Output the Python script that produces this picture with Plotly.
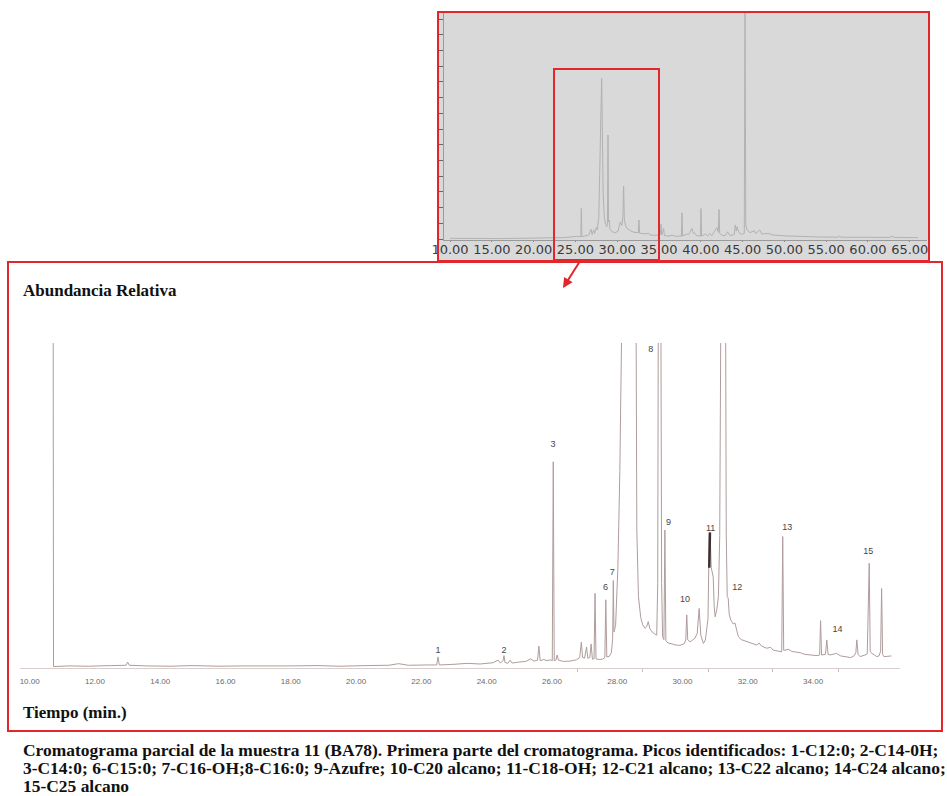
import plotly.graph_objects as go

W, H = 947, 796

# ---------------- data: main (partial) chromatogram ----------------
MAIN_T = [10.70, 10.73, 11.2, 11.8, 12.5, 12.95, 13.0, 13.05, 13.6, 14.3, 15.0, 15.8, 16.5, 17.3, 18.0,
          18.8, 19.5, 20.3, 21.0, 21.3, 21.6, 22.2, 22.47, 22.51, 22.55, 23.0, 23.4, 23.8, 24.2, 24.35,
          24.42, 24.50, 24.53, 24.56, 24.65, 24.72, 24.78, 25.0, 25.2, 25.35, 25.45, 25.56, 25.60, 25.64,
          25.75, 25.85, 25.95, 26.01, 26.04, 26.07, 26.12, 26.16, 26.20, 26.35, 26.55, 26.75, 26.85, 26.90,
          26.94, 27.00, 27.06, 27.10, 27.16, 27.20, 27.24, 27.29, 27.32, 27.35, 27.45, 27.55, 27.62, 27.65,
          27.68, 27.76, 27.82, 27.86, 27.88, 27.90, 27.95, 28.02, 28.08, 28.13, 28.22, 28.34, 28.48, 28.58,
          28.60, 28.65, 28.72, 28.78, 28.85, 28.90, 28.95, 29.00, 29.06, 29.14, 29.21, 29.24, 29.26, 29.30,
          29.34, 29.36, 29.39, 29.43, 29.46, 29.49, 29.55, 29.67, 29.80, 29.92, 30.05, 30.10, 30.13, 30.16,
          30.23, 30.30, 30.38, 30.45, 30.51, 30.56, 30.64, 30.70, 30.74, 30.78, 30.82, 30.85, 30.88, 30.94,
          30.97, 31.00, 31.05, 31.10, 31.14, 31.17, 31.24, 31.31, 31.34, 31.37, 31.40, 31.43, 31.48, 31.55,
          31.61, 31.66, 31.71, 31.80, 31.97, 32.10, 32.27, 32.35, 32.42, 32.58, 32.70, 32.78, 32.90, 33.04,
          33.07, 33.10, 33.14, 33.25, 33.35, 33.50, 33.62, 33.75, 33.88, 34.01, 34.12, 34.20, 34.23, 34.26,
          34.31, 34.38, 34.42, 34.46, 34.52, 34.62, 34.72, 34.85, 35.03, 35.15, 35.25, 35.31, 35.34, 35.38,
          35.44, 35.52, 35.59, 35.66, 35.69, 35.72, 35.75, 35.80, 35.88, 35.95, 36.02, 36.07, 36.10, 36.13,
          36.17, 36.30, 36.40]
MAIN_V = [300, -0.8, -0.6, -0.7, -0.5, -0.4, 0.6, -0.4, -0.6, -0.7, -0.5, -0.7, -0.6, -0.7, -0.6,
          -0.5, -0.7, -0.5, -0.4, 0.1, -0.4, -0.3, -0.3, 2.2, -0.3, -0.1, 0.2, 0.0, 0.4, 1.2,
          0.3, 1.0, 2.6, 0.5, 0.2, 1.2, 0.3, 0.6, 0.8, 1.6, 0.9, 1.2, 5.6, 1.0,
          1.4, 1.0, 1.3, 1.0, 63.0, 1.0, 1.2, 2.8, 1.2, 0.8, 0.9, 1.3, 2.0, 6.8,
          2.0, 1.8, 5.3, 1.8, 2.0, 6.2, 1.5, 1.6, 22.0, 1.6, 1.4, 1.5, 2.0, 20.0,
          2.2, 2.4, 3.5, 8.0, 26.0, 10.0, 12.0, 30.0, 60.0, 100.0, 220.0, 400.0, 220.0, 100.0,
          41.7, 21.0, 14.5, 12.2, 11.1, 11.6, 13.2, 11.0, 10.1, 9.4, 9.0, 25.0, 100.0, 300.0,
          100.0, 25.0, 8.5, 7.6, 41.7, 7.2, 6.6, 6.2, 5.9, 5.8, 6.3, 7.5, 15.3, 7.5,
          6.9, 7.4, 8.0, 9.5, 17.3, 9.0, 6.4, 7.5, 10.6, 14.0, 40.2, 39.5, 30.0, 27.2,
          18.0, 14.7, 17.0, 21.0, 40.0, 100.0, 400.0, 100.0, 40.0, 21.0, 20.5, 15.5, 13.7, 12.5,
          12.7, 10.5, 8.5, 7.6, 6.9, 6.4, 5.9, 6.5, 5.6, 4.9, 5.2, 4.3, 4.0, 3.8,
          39.7, 4.3, 4.3, 4.6, 3.9, 3.8, 3.5, 3.0, 2.9, 2.8, 2.6, 2.8, 13.5, 2.8,
          2.8, 3.0, 7.5, 3.0, 2.8, 3.0, 3.3, 2.5, 2.3, 2.0, 2.5, 3.5, 7.5, 3.0,
          2.3, 2.5, 2.8, 3.2, 20.0, 31.4, 4.0, 3.3, 2.8, 2.3, 2.5, 4.0, 23.5, 3.0,
          2.3, 2.3, 2.5]

# thick dark stroke on peak 11
BOLD_T = [30.84, 30.82]
BOLD_V = [41.0, 30.0]

PEAK_LABELS = ["1", "2", "3", "6", "7", "8", "9", "10", "11", "12", "13", "14", "15"]
PEAK_LABEL_T = [22.51, 24.53, 26.03, 27.64, 27.85, 29.03, 29.57, 30.08, 30.86, 31.68, 33.21, 34.75, 35.69]
PEAK_LABEL_V = [4.2, 4.2, 68.2, 23.7, 28.3, 97.8, 44.0, 19.9, 42.0, 23.6, 42.4, 10.8, 35.0]

MAIN_TICKS = [10, 12, 14, 16, 18, 20, 22, 24, 26, 28, 30, 32, 34]
MAIN_TICK_TEXT = ["10.00", "12.00", "14.00", "16.00", "18.00", "20.00", "22.00", "24.00",
                  "26.00", "28.00", "30.00", "32.00", "34.00"]
MAIN_MINOR = [26.77, 28.77, 30.8, 32.77, 34.77]

# ---------------- data: full chromatogram (inset) ----------------
INSET_T = [10.0, 12.0, 14.0, 16.0, 18.0, 20.0, 22.0, 23.5, 24.5, 25.2, 25.65, 25.71, 25.77, 26.2, 26.6,
           26.87, 27.0, 27.19, 27.3, 27.50, 27.62, 27.8, 27.95, 28.05, 28.14, 28.22, 28.32, 28.45, 28.6,
           28.78, 28.84, 28.90, 28.96, 29.06, 29.12, 29.4, 29.78, 30.1, 30.38, 30.55, 30.68, 30.77, 30.86,
           31.1, 31.5, 32.0, 32.52, 32.6, 32.68, 33.2, 33.76, 33.9, 34.5, 35.15, 35.24, 35.33, 35.56, 35.65,
           36.2, 36.56, 37.0, 37.68, 37.75, 37.82, 38.2, 38.35, 38.55, 38.75, 38.95, 39.1, 39.23, 39.5,
           39.95, 40.02, 40.09, 40.54, 40.8, 41.06, 41.3, 41.74, 41.94, 42.1, 42.18, 42.26, 42.54, 42.9,
           43.21, 43.5, 44.0, 44.13, 44.25, 44.33, 44.53, 44.8, 45.2, 45.29, 45.38, 45.53, 45.9, 46.4,
           46.6, 47.04, 47.3, 48.12, 48.5, 50.0, 52.0, 54.0, 56.4, 56.61, 56.8, 59.0, 62.6, 62.87, 63.1, 66.0]
INSET_V = [0.3, 0.2, 0.3, 0.2, 0.3, 0.3, 0.4, 0.6, 0.9, 1.2, 1.0, 13.5, 1.0, 1.3, 1.8,
           4.3, 2.0, 4.0, 2.5, 5.1, 4.0, 10.0, 30.0, 55.0, 71.1, 45.0, 20.0, 10.0, 6.5,
           5.5, 8.0, 46.0, 7.5, 8.4, 4.5, 3.2, 2.8, 3.5, 7.6, 6.0, 10.0, 23.4, 8.0,
           5.0, 3.8, 3.0, 2.8, 8.4, 2.6, 2.3, 2.5, 1.8, 1.6, 1.8, 6.5, 1.8, 4.7, 1.5,
           1.3, 1.7, 1.2, 1.3, 11.6, 1.3, 1.8, 2.2, 2.0, 3.2, 4.7, 2.5, 2.8, 1.5,
           1.3, 13.5, 1.3, 2.2, 1.3, 2.5, 1.4, 4.0, 5.1, 3.0, 13.1, 2.5, 1.7, 1.4,
           3.2, 1.5, 2.0, 6.2, 3.5, 5.4, 3.2, 2.0, 2.5, 110.0, 6.0, 4.0, 2.8, 3.7,
           2.4, 4.0, 2.2, 2.5, 1.8, 1.4, 1.1, 0.9, 0.8, 1.3, 0.8, 0.7, 0.7, 1.3, 0.7, 0.6]

INSET_TICKS = [10, 15, 20, 25, 30, 35, 40, 45, 50, 55, 60, 65]
INSET_TICK_TEXT = ["10.00", "15.00", "20.00", "25.00", "30.00", "35.00", "40.00", "45.00",
                   "50.00", "55.00", "60.00", "65.00"]

Y_LABEL = "Abundancia Relativa"
X_LABEL = "Tiempo (min.)"
CAPTION = [
    "Cromatograma parcial de la muestra 11 (BA78). Primera parte del cromatograma. Picos identificados: 1-C12:0; 2-C14-0H;",
    "3-C14:0; 6-C15:0; 7-C16-OH;8-C16:0; 9-Azufre; 10-C20 alcano; 11-C18-OH; 12-C21 alcano; 13-C22 alcano; 14-C24 alcano;",
    "15-C25 alcano",
]

# ---------------- figure ----------------
RED = "#e3262b"
TRACE = "#b09c9c"


def px(x):
    return x / W


def py(y):
    return 1 - y / H


fig = go.Figure()

fig.add_trace(go.Scatter(x=MAIN_T, y=MAIN_V, mode="lines", line=dict(color=TRACE, width=1),
                         xaxis="x", yaxis="y", hoverinfo="skip", showlegend=False))
fig.add_trace(go.Scatter(x=BOLD_T, y=BOLD_V, mode="lines", line=dict(color="#3a3030", width=2.5),
                         xaxis="x", yaxis="y", hoverinfo="skip", showlegend=False))
fig.add_trace(go.Scatter(x=PEAK_LABEL_T, y=PEAK_LABEL_V, mode="text", text=PEAK_LABELS,
                         textfont=dict(family="Liberation Sans", size=9, color="#4a4444"),
                         xaxis="x", yaxis="y", hoverinfo="skip", showlegend=False, cliponaxis=False))
fig.add_trace(go.Scatter(x=INSET_T, y=INSET_V, mode="lines", line=dict(color="#b2b2b2", width=1),
                         xaxis="x2", yaxis="y2", hoverinfo="skip", showlegend=False))

shapes = [
    dict(type="rect", xref="paper", yref="paper", x0=px(438), x1=px(929), y0=py(261), y1=py(12),
         fillcolor="#d9d9d9", line=dict(width=0), layer="below"),
    dict(type="rect", xref="paper", yref="paper", x0=px(438), x1=px(929), y0=py(261), y1=py(12),
         line=dict(color=RED, width=2), layer="above"),
    dict(type="rect", xref="paper", yref="paper", x0=px(554), x1=px(659), y0=py(260), y1=py(69),
         line=dict(color=RED, width=2), layer="above"),
    dict(type="rect", xref="paper", yref="paper", x0=px(8), x1=px(942), y0=py(731), y1=py(262),
         line=dict(color=RED, width=2), layer="above"),
]

annotations = [
    dict(text="", x=px(563), y=py(288), xref="paper", yref="paper", showarrow=True,
         ax=19, ay=-30, arrowhead=2, arrowsize=1, arrowwidth=2, arrowcolor=RED),
    dict(text="<b>" + Y_LABEL + "</b>", x=px(21), y=py(291), xref="paper", yref="paper",
         xanchor="left", yanchor="middle", showarrow=False,
         font=dict(family="Liberation Serif", size=17, color="#111111")),
    dict(text="<b>" + X_LABEL + "</b>", x=px(21), y=py(712), xref="paper", yref="paper",
         xanchor="left", yanchor="middle", showarrow=False,
         font=dict(family="Liberation Serif", size=17, color="#111111")),
]
for i, line in enumerate(CAPTION):
    annotations.append(dict(text="<b>" + line + "</b>", x=px(21), y=py(749.5 + 18.3 * i),
                            xref="paper", yref="paper", xanchor="left", yanchor="middle",
                            showarrow=False,
                            font=dict(family="Liberation Serif", size=17.45, color="#111111")))

fig.update_layout(
    template="none",
    width=W, height=H, margin=dict(l=0, r=0, t=0, b=0, pad=0, autoexpand=False),
    paper_bgcolor="white", plot_bgcolor="rgba(0,0,0,0)",
    showlegend=False, shapes=shapes, annotations=annotations,
    xaxis=dict(domain=[px(20), px(900)], range=[9.703, 36.663], anchor="y", automargin=False,
               tickmode="array", tickvals=MAIN_TICKS, ticktext=MAIN_TICK_TEXT,
               ticks="outside", ticklen=5, tickcolor="rgba(0,0,0,0)",
               tickfont=dict(family="Liberation Sans", size=8, color="#6a6a6a"),
               showline=True, linecolor="#d8cccc", linewidth=1,
               showgrid=False, zeroline=False,
               minor=dict(tickmode="array", tickvals=MAIN_MINOR, ticks="outside",
                          ticklen=3, tickcolor="#c8bcbc", showgrid=False)),
    yaxis=dict(domain=[py(668), py(343)], range=[-1.25, 100], anchor="x", automargin=False,
               visible=False, showgrid=False, zeroline=False),
    xaxis2=dict(domain=[px(444), px(927)], range=[9.28, 67.06], anchor="y2", automargin=False,
                tickmode="array", tickvals=INSET_TICKS, ticktext=INSET_TICK_TEXT,
                ticks="outside", ticklen=1, tickcolor="#888888", ticklabelstandoff=-4,
                tickfont=dict(family="DejaVu Sans", size=13, color="#3a3a3a"),
                showline=True, linecolor="#9a9a9a", linewidth=1,
                showgrid=False, zeroline=False),
    yaxis2=dict(domain=[py(240), py(13)], range=[-0.44, 100], anchor="x2", automargin=False,
                tickmode="linear", tick0=0, dtick=6.95, ticks="outside", ticklen=5,
                tickcolor="#666666", showticklabels=False,
                showline=True, linecolor="#9a9a9a", linewidth=1,
                showgrid=False, zeroline=False),
)

fig.write_html("out.html",
               post_script="document.body.style.margin='0px';document.body.style.overflow='hidden';")
